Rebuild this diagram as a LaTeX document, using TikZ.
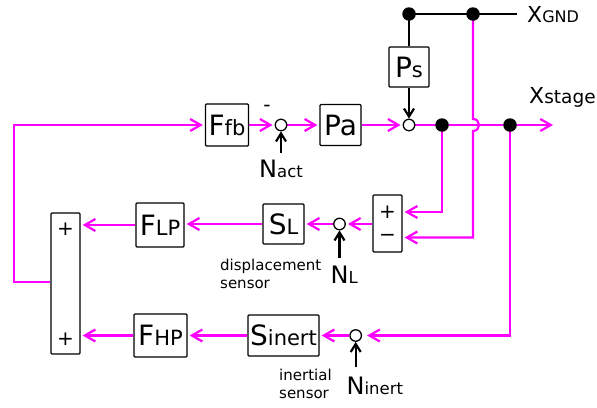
\documentclass[tikz,border=0pt]{standalone}
\usepackage{fontspec}
\setmainfont{DejaVu Sans}
\usetikzlibrary{arrows.meta,calc}
\definecolor{mag}{RGB}{255,0,255}
\newcommand\bigtx[1]{{\fontsize{28}{28}\selectfont #1}}
\newcommand\subtx[1]{{\fontsize{21}{21}\selectfont #1}}
\newcommand\nbig[1]{{\fontsize{24}{24}\selectfont #1}}
\newcommand\nsub[1]{{\fontsize{16.5}{16.5}\selectfont #1}}
\pgfdeclarelayer{bg}
\pgfsetlayers{bg,main}
\begin{document}
\begin{tikzpicture}[x=1pt,y=-1pt,
  blk/.style={draw=black,line width=1.3pt,rounded corners=1pt,inner sep=0pt,fill=white},
  sumc/.style={circle,draw=black,line width=1.3pt,fill=white,minimum size=11.5pt,inner sep=0pt},
  dotn/.style={circle,fill=black,minimum size=13.5pt,inner sep=0pt},
  sig/.style={draw=mag,line width=2.2pt,shorten >=2pt,-{Straight Barb[length=10.5pt,width=12pt]}},
  noise/.style={draw=black,line width=2.2pt,-{Straight Barb[length=8pt,width=10pt]}},
  blkwire/.style={draw=black,line width=2.2pt},
  txt/.style={inner sep=0pt},
  lbl/.style={inner sep=0pt,font=\fontsize{15}{17.5}\selectfont,align=left,anchor=north west},
  pmsym/.style={inner sep=0pt,font=\fontsize{20}{20}\selectfont}
]
\useasboundingbox (0,0) rectangle (597,407);
% ---- nodes ----
\coordinate (lt) at (14,125);
\coordinate (lb) at (14,282);
\node[blk,minimum width=43pt,minimum height=42pt] (ffb) at (227,125) {\bigtx{F}\subtx{fb}};
\node[txt,font=\fontsize{20}{20}\selectfont] (minus) at (267,108) {-};
\node[sumc] (sact) at (281,125) {};
\node[txt,anchor=north] (nact) at (281,160) {\nbig{N}\nsub{act}};
\node[blk,minimum width=41pt,minimum height=41pt] (pa) at (340.5,125) {\bigtx{Pa}};
\node[sumc] (sstage) at (409,125) {};
\node[blk,minimum width=40pt,minimum height=40pt] (ps) at (409,67) {\bigtx{P}\subtx{s}};
\node[dotn] (g1) at (409,14) {};
\node[dotn] (g2) at (473,14) {};
\coordinate (gend) at (517,14);
\node[txt,anchor=base west] (xgnd) at (527,22) {{\fontsize{22}{22}\selectfont X}{\fontsize{16}{16}\selectfont GND}};
\node[dotn] (d1) at (442,125) {};
\node[dotn] (d2) at (510,125) {};
\coordinate (send) at (553,125);
\node[txt,anchor=base west] (xstage) at (529,103.5) {{\fontsize{22}{22}\selectfont X}{\fontsize{18.5}{18.5}\selectfont stage}};
% +/- box
\node[blk,minimum width=29pt,minimum height=57pt] (pm) at (387.5,223.5) {};
\node[pmsym] (pmplus) at (387.5,212) {+};
\node[pmsym] (pmminus) at (387.5,237.5) {−};
\node[sumc] (sn) at (339.5,224) {};
\node[txt,anchor=north west] (nl) at (330.5,266) {\nbig{N}\nsub{L}};
\node[blk,minimum width=41pt,minimum height=40pt] (sl) at (283.5,224) {\bigtx{S}\subtx{L}};
\node[lbl] (dlbl) at (220,259) {displacement\\sensor};
\node[blk,minimum width=48pt,minimum height=44pt] (flp) at (160,225) {\bigtx{F}\subtx{LP}};
% big sum box
\node[blk,minimum width=29pt,minimum height=141pt] (big) at (65.5,283.5) {};
\node[pmsym] (bplus1) at (65.5,229) {+};
\node[pmsym] (bplus2) at (65.5,339) {+};
% bottom row
\node[sumc] (si) at (355.7,335.5) {};
\node[txt,anchor=north west] (ni) at (346.5,377) {\nbig{N}\nsub{inert}};
\node[blk,minimum width=71pt,minimum height=41pt] (sinert) at (283.5,335.5) {\bigtx{S}\subtx{inert}};
\node[lbl] (ilbl) at (279,369) {inertial\\sensor};
\node[blk,minimum width=53pt,minimum height=43pt] (fhp) at (160.5,335.5) {\bigtx{F}\subtx{HP}};
% ---- connectors ----
\begin{pgfonlayer}{bg}
\draw[sig] (big.west |- lb) -- (lb) -- (lt) -- (ffb.west);
\draw[sig] (ffb.east) -- (sact.west);
\draw[sig] (sact.east) -- (pa.west);
\draw[sig] (pa.east) -- (sstage.west);
\draw[sig,shorten >=0pt] (sstage.east) -- (send);
\draw[blkwire] (g1.center) -- (gend);
\draw[blkwire] (g1.center) -- (ps.north);
\draw[noise] (ps.south) -- (sstage.north);
\draw[noise] ($(nact.north)+(0,-7)$) -- (sact.south);
\draw[sig] (d1.center) |- (pm.east |- pmplus);
\draw[sig] (g2.center) -- ($(g2.center |- sstage)+(0,-6)$)
  .. controls +(8,0) and +(8,0) .. ($(g2.center |- sstage)+(0,6)$)
  |- (pm.east |- pmminus);
\draw[sig] (pm.west |- sn) -- (sn.east);
\draw[noise] ($(sn.south |- nl.north)+(0,-8)$) -- (sn.south);
\draw[sig] (sn.west) -- (sn.west -| sl.east);
\draw[sig] (sl.west) -- (sl.west -| flp.east);
\draw[sig] (flp.west) -- (flp.west -| big.east);
\draw[sig,shorten >=5pt] (d2.center) |- (si.east);
\draw[noise] ($(si.south |- ni.north)+(0,-10)$) -- (si.south);
\draw[sig] (si.west) -- (sinert.east);
\draw[sig] (sinert.west) -- (fhp.east);
\draw[sig] (fhp.west) -- (fhp.west -| big.east);
\end{pgfonlayer}
\end{tikzpicture}
\end{document}
